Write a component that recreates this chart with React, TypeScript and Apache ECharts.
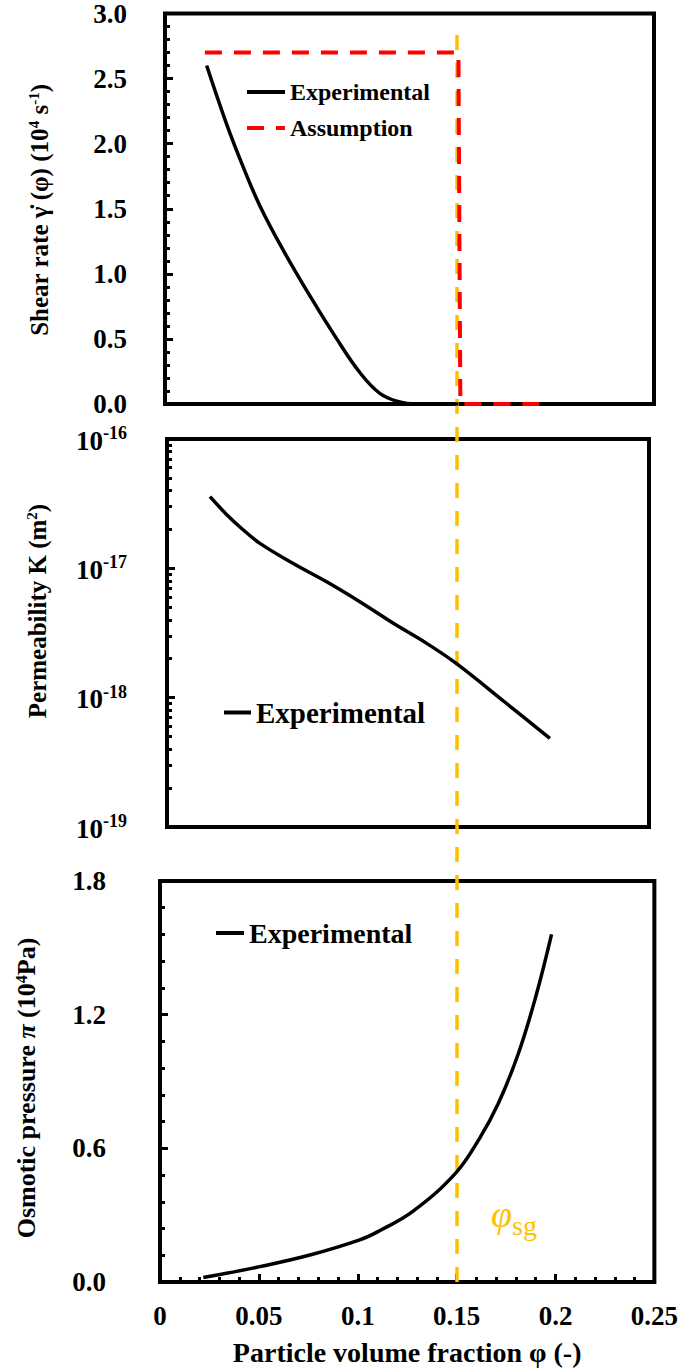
import React, { useEffect, useRef } from "react";
import * as echarts from "echarts";

// ---------- data ----------
const phiShear = [0.0213, 0.0315, 0.040, 0.0486, 0.0605, 0.0741, 0.0878, 0.0997, 0.110, 0.120, 0.128, 0.15];
const shearExp = [2.60, 2.15, 1.82, 1.52, 1.18, 0.83, 0.50, 0.24, 0.08, 0.015, 0.0, 0.0];
const phiAssump = [0.0204, 0.150, 0.151, 0.193];
const shearAssump = [2.7, 2.7, 0, 0];

const phiPerm = [0.0223, 0.031, 0.0396, 0.0482, 0.0655, 0.0828, 0.100, 0.1174, 0.1347, 0.15, 0.175, 0.1986];
const permExp = [3.58e-17, 2.6e-17, 1.98e-17, 1.56e-17, 1.09e-17, 7.87e-18, 5.52e-18, 3.76e-18, 2.63e-18, 1.84e-18, 9.3e-19, 4.84e-19];

const phiOsm = [0.0219, 0.0505, 0.0758, 0.101, 0.111, 0.128, 0.1495, 0.1616, 0.171, 0.181, 0.19, 0.198];
const osmExp = [0.02, 0.069, 0.121, 0.189, 0.23, 0.318, 0.489, 0.645, 0.80, 1.02, 1.28, 1.56];

const phiSg = 0.15;
const xTicks = [0, 0.05, 0.1, 0.15, 0.2, 0.25];

const FONT = "Liberation Serif";
const YELLOW = "#FFC000";

const zip = (a: number[], b: number[]) => a.map((v, i) => [v, b[i]]);

export default function App() {
  const ref = useRef<HTMLDivElement>(null);
  useEffect(() => {
    if (!ref.current) return;
    const chart = echarts.init(ref.current, undefined, { renderer: "svg" });

    const gridBase = { show: true, borderColor: "#000", borderWidth: 4, backgroundColor: "transparent" };
    const tickLabel = { fontFamily: FONT, fontWeight: "bold", fontSize: 27, color: "#000" };
    const hiddenX = (idx: number) => ({
      type: "value", gridIndex: idx, min: 0, max: 0.25, interval: 0.05,
      axisLine: { show: false }, axisTick: { show: false }, axisLabel: { show: false }, splitLine: { show: false },
    });
    const legendHideSymbol = { opacity: 0, borderWidth: 0 };
    const legendLine = { width: 4 };

    const option: any = {
      animation: false,
      textStyle: { fontFamily: FONT },
      grid: [
        { ...gridBase, left: 165, right: 27, top: 11, height: 393 },
        { ...gridBase, left: 167, right: 32, top: 439, height: 388 },
        { ...gridBase, left: 160, right: 26, top: 881, height: 401 },
        { show: false, left: 160, right: 26, top: 25, bottom: 87 },
      ],
      xAxis: [
        hiddenX(0),
        hiddenX(1),
        {
          type: "value", gridIndex: 2, min: 0, max: 0.25, interval: 0.05,
          axisLine: { show: false },
          axisTick: { show: true, inside: true, length: 8, lineStyle: { color: "#000", width: 3 } },
          minorTick: { show: true, splitNumber: 5, length: 5, lineStyle: { color: "#000", width: 3 } },
          axisLabel: { ...tickLabel, margin: 20, formatter: (v: number) => String(xTicks.find((t) => Math.abs(t - v) < 1e-9) ?? v) },
          splitLine: { show: false },
          name: "Particle volume fraction φ (-)",
          nameLocation: "middle",
          nameGap: 56,
          nameTextStyle: { fontFamily: FONT, fontWeight: "bold", fontSize: 28, color: "#000" },
        },
        { ...hiddenX(3) },
      ],
      yAxis: [
        {
          type: "value", gridIndex: 0, min: 0, max: 3, interval: 0.5,
          axisLine: { show: false },
          axisTick: { show: true, inside: true, length: 8, lineStyle: { color: "#000", width: 3 } },
          minorTick: { show: true, splitNumber: 5, length: 5, lineStyle: { color: "#000", width: 3 } },
          axisLabel: { ...tickLabel, margin: 38, formatter: (v: number) => v.toFixed(1) },
          splitLine: { show: false },
        },
        {
          type: "log", gridIndex: 1, min: 1e-19, max: 1e-16, logBase: 10, splitNumber: 3,
          axisLine: { show: false },
          axisTick: { show: true, inside: true, length: 8, lineStyle: { color: "#000", width: 3 } },
          minorTick: { show: true, splitNumber: 9, length: 5, lineStyle: { color: "#000", width: 3 } },
          axisLabel: {
            ...tickLabel, margin: 40,
            formatter: (v: number) => `{b|10}{s|${Math.round(Math.log10(v))}}`,
            rich: {
              b: { fontFamily: FONT, fontWeight: "bold", fontSize: 27, color: "#000", lineHeight: 30, verticalAlign: "bottom" },
              s: { fontFamily: FONT, fontWeight: "bold", fontSize: 18, color: "#000", lineHeight: 18, verticalAlign: "top" },
            },
          },
          splitLine: { show: false },
        },
        {
          type: "value", gridIndex: 2, min: 0, max: 1.8, interval: 0.6,
          axisLine: { show: false },
          axisTick: { show: true, inside: true, length: 8, lineStyle: { color: "#000", width: 3 } },
          minorTick: { show: true, splitNumber: 5, length: 5, lineStyle: { color: "#000", width: 3 } },
          axisLabel: { ...tickLabel, margin: 54, formatter: (v: number) => v.toFixed(1) },
          splitLine: { show: false },
        },
        { type: "value", gridIndex: 3, min: 0, max: 1, show: false },
      ],
      legend: [
        {
          left: 245, top: 80, padding: 0, orient: "vertical", itemWidth: 38, itemHeight: 14, itemGap: 12,
          data: ["Experimental", "Assumption"],
          itemStyle: legendHideSymbol, lineStyle: legendLine,
          textStyle: { fontFamily: FONT, fontWeight: "bold", fontSize: 24, color: "#000" },
        },
        {
          left: 222, top: 698, padding: 0, itemWidth: 27, itemHeight: 14,
          data: ["Experimental"],
          itemStyle: legendHideSymbol, lineStyle: legendLine,
          textStyle: { fontFamily: FONT, fontWeight: "bold", fontSize: 29, color: "#000" },
        },
        {
          left: 214, top: 919, padding: 0, itemWidth: 28, itemHeight: 14,
          data: ["Experimental"],
          itemStyle: legendHideSymbol, lineStyle: legendLine,
          textStyle: { fontFamily: FONT, fontWeight: "bold", fontSize: 28, color: "#000" },
        },
      ],
      series: [
        {
          name: "sg", type: "line", xAxisIndex: 3, yAxisIndex: 3, z: 1, symbol: "none",
          data: [[phiSg, 0], [phiSg, 1]],
          lineStyle: { color: YELLOW, width: 3.5, type: [15, 13] },
        },
        {
          name: "Experimental", type: "line", xAxisIndex: 0, yAxisIndex: 0, z: 3, symbol: "none",
          smooth: 0.4,
          data: zip(phiShear, shearExp),
          lineStyle: { color: "#000", width: 3.5 }, itemStyle: { color: "#000" },
        },
        {
          name: "Assumption", type: "line", xAxisIndex: 0, yAxisIndex: 0, z: 4, symbol: "none",
          data: zip(phiAssump, shearAssump),
          lineStyle: { color: "#FF0000", width: 4, type: [17, 12] }, itemStyle: { color: "#FF0000" },
        },
        {
          name: "Experimental", type: "line", xAxisIndex: 1, yAxisIndex: 1, z: 3, symbol: "none",
          smooth: 0.4,
          data: zip(phiPerm, permExp),
          lineStyle: { color: "#000", width: 3.5 }, itemStyle: { color: "#000" },
        },
        {
          name: "Experimental", type: "line", xAxisIndex: 2, yAxisIndex: 2, z: 3, symbol: "none",
          smooth: 0.4,
          data: zip(phiOsm, osmExp),
          lineStyle: { color: "#000", width: 3.5 }, itemStyle: { color: "#000" },
        },
      ],
      graphic: [
        {
          type: "text", x: 39, y: 210, rotation: Math.PI / 2,
          style: {
            text: "Shear rate γ̇ (φ) (10{sup|4} s{sup|-1})",
            fontFamily: FONT, fontWeight: "bold", fontSize: 25, fill: "#000",
            align: "center", verticalAlign: "middle",
            rich: { sup: { fontFamily: FONT, fontWeight: "bold", fontSize: 15, fill: "#000", verticalAlign: "top" } },
          },
        },
        {
          type: "text", x: 37, y: 611, rotation: Math.PI / 2,
          style: {
            text: "Permeability K (m{sup|2})",
            fontFamily: FONT, fontWeight: "bold", fontSize: 25, fill: "#000",
            align: "center", verticalAlign: "middle",
            rich: { sup: { fontFamily: FONT, fontWeight: "bold", fontSize: 15, fill: "#000", verticalAlign: "top" } },
          },
        },
        {
          type: "text", x: 26, y: 1088, rotation: Math.PI / 2,
          style: {
            text: "Osmotic pressure {it|π} (10{sup|4}Pa)",
            fontFamily: FONT, fontWeight: "bold", fontSize: 26, fill: "#000",
            align: "center", verticalAlign: "middle",
            rich: {
              sup: { fontFamily: FONT, fontWeight: "bold", fontSize: 16, fill: "#000", verticalAlign: "top" },
              it: { fontFamily: FONT, fontWeight: "bold", fontStyle: "italic", fontSize: 26, fill: "#000" },
            },
          },
        },
        {
          type: "text", x: 491, y: 1214,
          style: {
            text: "{p|φ}{s|sg}",
            align: "left", verticalAlign: "middle",
            rich: {
              p: { fontFamily: FONT, fontStyle: "italic", fontSize: 38, fill: YELLOW, verticalAlign: "bottom" },
              s: { fontFamily: FONT, fontSize: 28, fill: YELLOW, verticalAlign: "bottom", padding: [0, 0, -6, 0] },
            },
          },
        },
      ],
    };

    chart.setOption(option);
    return () => chart.dispose();
  }, []);

  return (
    <div
      ref={ref}
      style={{ position: "absolute", left: 0, top: 0, width: 681, height: 1369, background: "#fff" }}
    />
  );
}
